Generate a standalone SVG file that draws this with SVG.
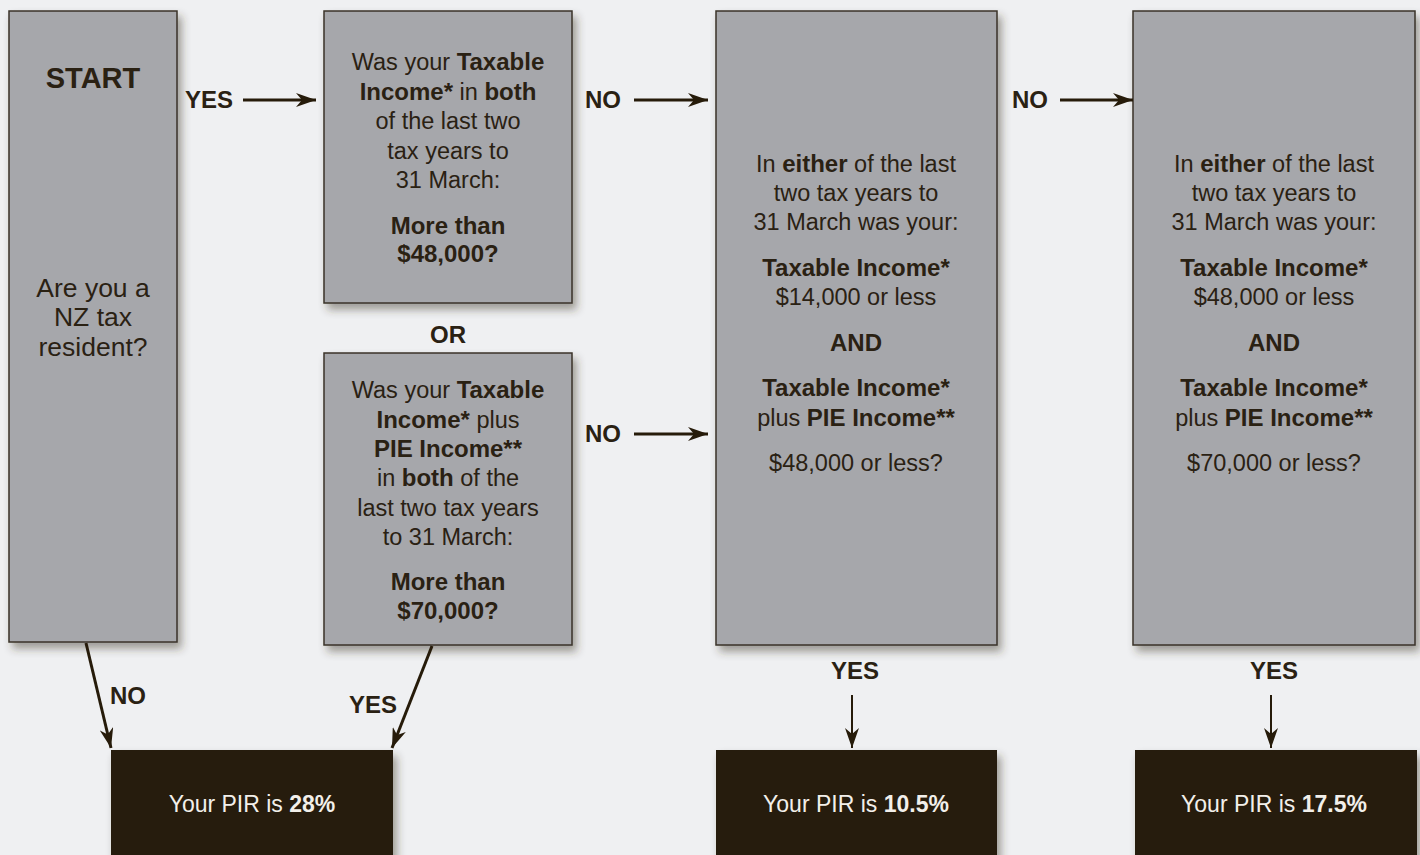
<svg xmlns="http://www.w3.org/2000/svg" width="1420" height="855" viewBox="0 0 1420 855">
<defs>
<filter id="sh" x="-10%" y="-10%" width="130%" height="130%">
<feDropShadow dx="4" dy="6" stdDeviation="4" flood-color="#3a3020" flood-opacity="0.45"/>
</filter>
<marker id="ah" viewBox="0 0 20 14" refX="20" refY="7" markerWidth="20" markerHeight="14" markerUnits="userSpaceOnUse" orient="auto">
<path d="M0,0 L20,7 L0,14 L6,7 Z" fill="#261b0a"/>
</marker>
<style>
.q{fill:#a6a7ab;stroke:#3a3328;stroke-width:1.5;filter:url(#sh)}
.r{fill:#261b0a;filter:url(#sh)}
text{font-family:"Liberation Sans",Arial,sans-serif;fill:#2a2113;text-anchor:middle}
.t{font-size:23.5px}
.b{font-weight:bold;font-size:24px}
.lbl{font-size:24px;font-weight:bold;text-anchor:start}
.w{fill:#f2efea;font-size:23px}
.c{stroke:#261b0a;stroke-width:3;fill:none;marker-end:url(#ah)}
.c2{stroke:#261b0a;stroke-width:2;fill:none;marker-end:url(#ah)}
</style>
</defs>
<rect width="1420" height="855" fill="#eff0f2"/>

<g id="start">
<rect class="q" x="9" y="11" width="168" height="631"/>
<text x="93" y="88" font-size="29" font-weight="bold">START</text>
<text x="93" y="297" font-size="26.5">Are you a</text>
<text x="93" y="326" font-size="26.5">NZ tax</text>
<text x="93" y="356" font-size="26.5">resident?</text>
</g>

<g id="q48">
<rect class="q" x="324" y="11" width="248" height="292"/>
<text class="t" x="448" y="70">Was your <tspan class="b">Taxable</tspan></text>
<text class="t" x="448" y="100"><tspan class="b">Income*</tspan> in <tspan class="b">both</tspan></text>
<text class="t" x="448" y="129">of the last two</text>
<text class="t" x="448" y="159">tax years to</text>
<text class="t" x="448" y="188">31 March:</text>
<text class="t b" x="448" y="234">More than</text>
<text class="t b" x="448" y="262">$48,000?</text>
</g>

<g id="or">
<text class="t b" x="448" y="343">OR</text>
</g>

<g id="q70">
<rect class="q" x="324" y="353" width="248" height="292"/>
<text class="t" x="448" y="398">Was your <tspan class="b">Taxable</tspan></text>
<text class="t" x="448" y="428"><tspan class="b">Income*</tspan> plus</text>
<text class="t b" x="448" y="457">PIE Income**</text>
<text class="t" x="448" y="486">in <tspan class="b">both</tspan> of the</text>
<text class="t" x="448" y="516">last two tax years</text>
<text class="t" x="448" y="545">to 31 March:</text>
<text class="t b" x="448" y="590">More than</text>
<text class="t b" x="448" y="619">$70,000?</text>
</g>

<g id="q14">
<rect class="q" x="716" y="11" width="281" height="634"/>
<text class="t" x="856" y="172">In <tspan class="b">either</tspan> of the last</text>
<text class="t" x="856" y="201">two tax years to</text>
<text class="t" x="856" y="230">31 March was your:</text>
<text class="t b" x="856" y="276">Taxable Income*</text>
<text class="t" x="856" y="305">$14,000 or less</text>
<text class="t b" x="856" y="351">AND</text>
<text class="t b" x="856" y="396">Taxable Income*</text>
<text class="t" x="856" y="426">plus <tspan class="b">PIE Income**</tspan></text>
<text class="t" x="856" y="471">$48,000 or less?</text>
</g>

<g id="q48b">
<rect class="q" x="1133" y="11" width="282" height="634"/>
<text class="t" x="1274" y="172">In <tspan class="b">either</tspan> of the last</text>
<text class="t" x="1274" y="201">two tax years to</text>
<text class="t" x="1274" y="230">31 March was your:</text>
<text class="t b" x="1274" y="276">Taxable Income*</text>
<text class="t" x="1274" y="305">$48,000 or less</text>
<text class="t b" x="1274" y="351">AND</text>
<text class="t b" x="1274" y="396">Taxable Income*</text>
<text class="t" x="1274" y="426">plus <tspan class="b">PIE Income**</tspan></text>
<text class="t" x="1274" y="471">$70,000 or less?</text>
</g>

<g id="r28">
<rect class="r" x="111" y="750" width="282" height="110"/>
<text class="w" x="252" y="812">Your PIR is <tspan font-weight="bold">28%</tspan></text>
</g>

<g id="r105">
<rect class="r" x="716" y="750" width="281" height="110"/>
<text class="w" x="856" y="812">Your PIR is <tspan font-weight="bold">10.5%</tspan></text>
</g>

<g id="r175">
<rect class="r" x="1135" y="750" width="282" height="110"/>
<text class="w" x="1274" y="812">Your PIR is <tspan font-weight="bold">17.5%</tspan></text>
</g>

<g id="connectors">
<line class="c" x1="243" y1="100" x2="316" y2="100"/>
<text class="lbl" x="185" y="108">YES</text>
<line class="c" x1="634" y1="100" x2="708" y2="100"/>
<text class="lbl" x="585" y="108">NO</text>
<line class="c" x1="1060" y1="100" x2="1133" y2="100"/>
<text class="lbl" x="1012" y="108">NO</text>
<line class="c" x1="634" y1="434" x2="708" y2="434"/>
<text class="lbl" x="585" y="442">NO</text>
<line class="c" x1="86" y1="643" x2="111" y2="748"/>
<text class="lbl" x="110" y="704">NO</text>
<line class="c" x1="432" y1="646" x2="392" y2="748"/>
<text class="lbl" x="349" y="713">YES</text>
<line class="c2" x1="852" y1="695" x2="852" y2="748"/>
<text class="lbl" x="831" y="679">YES</text>
<line class="c2" x1="1271" y1="695" x2="1271" y2="748"/>
<text class="lbl" x="1250" y="679">YES</text>
</g>
</svg>
